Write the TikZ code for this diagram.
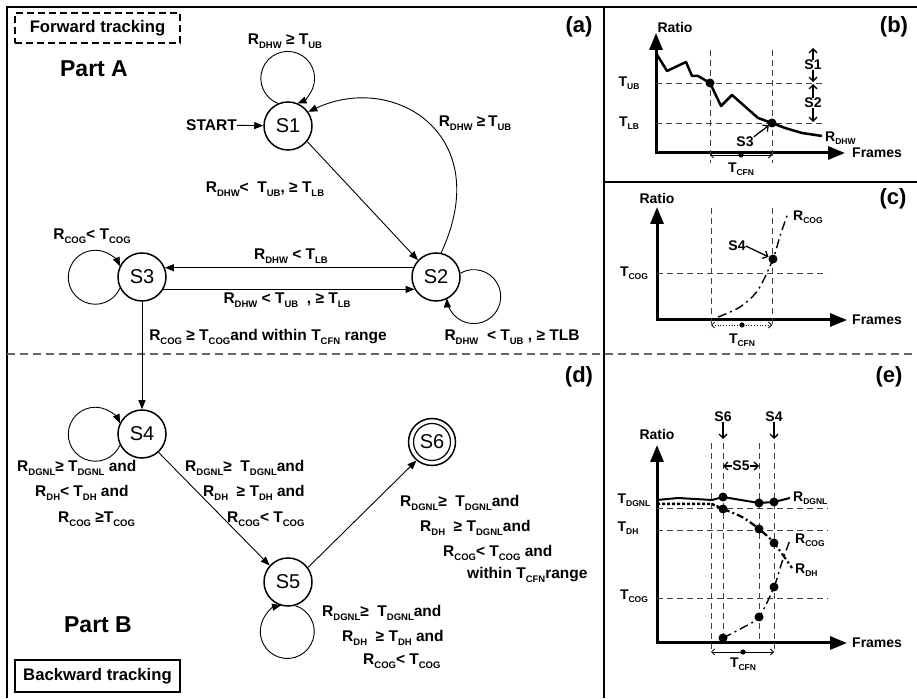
\documentclass[tikz,border=0pt]{standalone}
\usepackage{fontspec}
\setmainfont{Liberation Sans}
\usetikzlibrary{arrows.meta}
\newcommand{\subsz}{8.5}
\newcommand{\Xs}[2]{#1\raisebox{-0.45ex}{\fontsize{\subsz}{\subsz}\selectfont #2}}
\tikzset{
  stt/.style={circle, draw, line width=1.5pt, minimum size=48pt, inner sep=0pt, font=\fontsize{20}{22}\selectfont},
  lbl/.style={font={\renewcommand\subsz{9.5}\fontsize{15.5}{17}\selectfont\bfseries}, inner sep=0pt},
  plb/.style={font={\renewcommand\subsz{8.5}\fontsize{14}{16}\selectfont\bfseries}, inner sep=0pt},
  pl/.style={font=\fontsize{22}{24}\selectfont\bfseries, inner sep=0pt},
  edg/.style={line width=0.9pt, -{Triangle[length=9pt,width=7pt]}},
  axs/.style={line width=3pt, line join=miter, {Triangle[length=17pt,width=13pt]}-{Triangle[length=17pt,width=13pt]}},
  gridl/.style={line width=0.9pt, dash pattern=on 6pt off 4pt, black!75},
  crv/.style={line width=2.5pt, line join=round},
  barb/.style={line width=1.3pt, -{Straight Barb[length=4pt,width=8pt]}},
  brk/.style={line width=0.8pt, {Straight Barb[length=3pt,width=6pt]}-{Straight Barb[length=3pt,width=6pt]}},
  dd/.style={line width=1.4pt, dash pattern=on 9pt off 4pt on 2pt off 4pt},
}
\begin{document}
\begin{tikzpicture}[x=1pt,y=1pt]
\useasboundingbox (0,0) rectangle (917,698);
% frame
\draw[line width=2pt] (7,0) -- (7,691) -- (917,691);
\draw[line width=2pt] (604,0) -- (604,691);
\draw[line width=2pt] (604,516) -- (917,516);
\draw[line width=1.8pt, black!60, dash pattern=on 8pt off 5pt] (7,344) -- (917,344);

% ---------- panel (a)
\node[draw, dash pattern=on 7pt off 4pt, line width=1.5pt, minimum width=165pt, minimum height=30pt, inner sep=0pt, font=\fontsize{16.7}{18}\selectfont\bfseries] (fwd) at (97.5,670) {Forward tracking};
\node[font=\fontsize{23}{25}\selectfont\bfseries, inner sep=0pt] (partA) at (94,629) {Part A};
\node[pl] (pa) at (579,671) {(a)};

\node[stt] (S1) at (288,572) {S1};
\node[stt] (S2) at (436,421) {S2};
\node[stt] (S3) at (142,421) {S3};
\node[stt] (S4) at (142,264) {S4};
\node[stt] (S5) at (288,116) {S5};
\node[stt, minimum size=47pt] (S6) at (432,256) {S6};
\draw[line width=1.2pt] (S6.center) circle[radius=18.5];

\node[lbl] (start) at (211.5,573) {START};
\draw[edg] (start) -- (S1);
\draw[edg] (S1.114) arc[start angle=248.7, end angle=-68.7, radius=26.9];
\draw[edg] (S2.78) .. controls +(65:130) and +(25:95) .. (S1.35);
\draw[edg] (S1.321) -- (S2.137);
\draw[edg] (S2.158) -- (S3.22);
\draw[edg] (S3.330) -- (S2.210);
\draw[edg] (S2.9) arc[start angle=119.5, end angle=-176.2, radius=27];
\draw[edg] (S3.207) arc[start angle=-24, end angle=-336, radius=27];
\draw[edg] (S3) -- (S4);

\node[lbl] (l1) at (285,657) {\Xs{R}{DHW} ≥ \Xs{T}{UB}};
\node[lbl] (l2) at (475,575) {\Xs{R}{DHW} ≥\,\Xs{T}{UB}};
\node[lbl] (l3) at (265,509) {\Xs{R}{DHW}<~~\Xs{T}{UB}, ≥ \Xs{T}{LB}};
\node[lbl] (l4) at (92,462) {\Xs{R}{COG}<~\Xs{T}{COG}};
\node[lbl] (l5) at (291,442) {\Xs{R}{DHW} < \Xs{T}{LB}};
\node[lbl] (l6) at (287,398) {\Xs{R}{DHW} < \Xs{T}{UB} ~, ≥ \Xs{T}{LB}};
\node[lbl] (l7) at (512,361) {\Xs{R}{DHW} ~< \Xs{T}{UB} , ≥ TLB};
\node[lbl] (l8) at (268,361) {\Xs{R}{COG} ≥ \Xs{T}{COG}and within \Xs{T}{CFN} range};

% ---------- panel (d)
\node[pl] (pd) at (579,321) {(d)};
\draw[edg] (S4.207) arc[start angle=-24, end angle=-336, radius=27];
\draw[edg] (S4.312) -- (S5.138);
\draw[edg] (S5.287) arc[start angle=72.8, end angle=-256.9, radius=27];
\draw[edg] (S5.36) -- (S6.230);

\node[lbl, anchor=west] (m1) at (17,230) {\Xs{R}{DGNL}≥ \Xs{T}{DGNL} and};
\node[lbl, anchor=west] (m2) at (35,205) {\Xs{R}{DH}< \Xs{T}{DH} and};
\node[lbl, anchor=west] (m3) at (58,179) {\Xs{R}{COG} ≥\Xs{T}{COG}};

\node[lbl, anchor=west] (n1) at (185,230) {\Xs{R}{DGNL}≥~~\Xs{T}{DGNL}and};
\node[lbl, anchor=west] (n2) at (203,205) {\Xs{R}{DH} ~≥ \Xs{T}{DH} and};
\node[lbl, anchor=west] (n3) at (227,179) {\Xs{R}{COG}< \Xs{T}{COG}};

\node[lbl, anchor=west] (o1) at (400,195) {\Xs{R}{DGNL}≥~~\Xs{T}{DGNL}and};
\node[lbl, anchor=west] (o2) at (420,170) {\Xs{R}{DH} ~≥ \Xs{T}{DGNL}and};
\node[lbl, anchor=west] (o3) at (443,145) {\Xs{R}{COG}< \Xs{T}{COG} and};
\node[lbl, anchor=west] (o4) at (467,123) {within \Xs{T}{CFN}range};

\node[lbl, anchor=west] (p1) at (322,85) {\Xs{R}{DGNL}≥~~\Xs{T}{DGNL}and};
\node[lbl, anchor=west] (p2) at (342,60) {\Xs{R}{DH} ~≥ \Xs{T}{DH} and};
\node[lbl, anchor=west] (p3) at (363,37) {\Xs{R}{COG}< \Xs{T}{COG}};

\node[font=\fontsize{23}{25}\selectfont\bfseries, inner sep=0pt] (partB) at (98,73) {Part B};
\node[draw, line width=1.5pt, minimum width=165pt, minimum height=32pt, inner sep=0pt, font=\fontsize{16.7}{18}\selectfont\bfseries] (bwd) at (97.5,22) {Backward tracking};

% ---------- panel (b)
\node[pl] (pb) at (894,671) {(b)};
\node[plb] (ratB) at (675,670) {Ratio};
\draw[axs] (656,665) -- (656,545) -- (845,545);
\node[plb, anchor=west] (frB) at (852,545) {Frames};
\draw[gridl] (710,648) -- (710,535);
\draw[gridl] (772,648) -- (772,535);
\draw[gridl] (656,615) -- (822,615);
\draw[gridl] (656,575) -- (822,575);
\node[plb] (tubB) at (629,615) {\Xs{T}{UB}};
\node[plb] (tlbB) at (629,575) {\Xs{T}{LB}};
\draw[crv] (656,645) -- (667,627) -- (686,636) -- (692,622) -- (698,622) -- (710,615) -- (721,592) -- (732,603) -- (758,580) -- (772,575) -- (785,570) -- (802,565) -- (822,562);
\fill (710,615) circle[radius=4.5];
\coordinate (dB2) at (772,575);
\fill (dB2) circle[radius=4.5];
\node[plb, anchor=west] (rdhwB) at (825,560) {\Xs{R}{DHW}};
\node[plb] (s3B) at (745,556) {S3};
\draw[barb, shorten >=4pt] (s3B.north east) -- (dB2);
\node[plb] (s1B) at (813,633) {S1};
\node[plb] (s2B) at (813,595) {S2};
\coordinate (s1t) at (813,650);
\coordinate (s1b) at (813,616);
\coordinate (s2t) at (813,614);
\coordinate (s2b) at (813,576);
\draw[barb] (s1B.north) -- (s1t);
\draw[barb] (s1B.south) -- (s1b);
\draw[barb] (s2B.north) -- (s2t);
\draw[barb] (s2B.south) -- (s2b);
\draw[brk] (710,543) -- (772,543);
\fill (741,543) circle[radius=2.6];
\node[plb] (tcfnB) at (741,529) {\Xs{T}{CFN}};

% ---------- panel (c)
\node[pl] (pc) at (893,499) {(c)};
\node[plb] (ratC) at (657,499) {Ratio};
\draw[axs] (657,491) -- (657,378) -- (847,378);
\node[plb, anchor=west] (frC) at (852,378) {Frames};
\draw[gridl] (711,490) -- (711,370);
\draw[gridl] (772,490) -- (772,370);
\draw[gridl] (657,425) -- (827,425);
\node[plb] (tcogC) at (634,425) {\Xs{T}{COG}};
\draw[dd] plot[smooth] coordinates {(718,381) (740,391) (758,408) (773,439) (780,462) (788,485)};
\coordinate (dC) at (773,439);
\fill (dC) circle[radius=4.5];
\node[plb, anchor=west] (rcogC) at (793,481) {\Xs{R}{COG}};
\node[plb] (s4C) at (737,452) {S4};
\draw[barb, shorten >=5pt] (s4C.east) -- (dC);
\draw[brk, dotted] (711,373) -- (772,373);
\fill (742,373) circle[radius=2.6];
\node[plb] (tcfnC) at (742,358) {\Xs{T}{CFN}};

% ---------- panel (e)
\node[pl] (pe) at (889,321) {(e)};
\node[plb] (ratE) at (657,264) {Ratio};
\draw[axs] (657,253) -- (657,55) -- (847,55);
\node[plb, anchor=west] (frE) at (852,55) {Frames};
\draw[gridl] (711,255) -- (711,48);
\draw[gridl] (723,255) -- (723,55);
\draw[gridl] (759,255) -- (759,55);
\draw[gridl] (774,255) -- (774,48);
\draw[gridl] (657,190) -- (828,190);
\draw[gridl] (657,168) -- (828,168);
\draw[gridl] (657,100) -- (828,100);
\node[plb] (tdgnlE) at (634,198) {\Xs{T}{DGNL}};
\node[plb] (tdhE) at (628,170) {\Xs{T}{DH}};
\node[plb] (tcogE) at (634,102) {\Xs{T}{COG}};
\node[plb] (s6E) at (723,281) {S6};
\node[plb] (s4E) at (774,281) {S4};
\coordinate (s6a) at (723,259);
\coordinate (s4a) at (774,259);
\draw[barb] (s6E.south) -- (s6a);
\draw[barb] (s4E.south) -- (s4a);
\node[plb] (s5E) at (741,232) {S5};
\coordinate (s5l) at (723,232);
\coordinate (s5r) at (759,232);
\draw[barb] (s5E.west) -- (s5l);
\draw[barb] (s5E.east) -- (s5r);
% R_DGNL
\draw[line width=2pt, line join=round] (657,198) -- (678,200) -- (712,198) -- (723,201) -- (759,195) -- (774,196) -- (790,200);
\node[plb, anchor=west] (rdgnlE) at (793,200) {\Xs{R}{DGNL}};
% R_DH
\draw[line width=2.5pt, dash pattern=on 3pt off 2pt] (657,194) -- (712,194) -- (723,189);
\draw[line width=2.2pt, dash pattern=on 7pt off 3pt on 2pt off 3pt] plot[smooth] coordinates {(723,189) (742,181) (759,169) (774,155) (792,130)};
\node[plb, anchor=west] (rdhE) at (795,128) {\Xs{R}{DH}};
% R_COG
\draw[dd] plot[smooth] coordinates {(723,60) (742,70) (759,81) (774,111) (782,136) (790,158)};
\node[plb, anchor=west] (rcogE) at (795,158) {\Xs{R}{COG}};
\foreach \p in {(723,201),(759,195),(774,196),(723,189),(759,169),(774,155),(723,60),(759,81),(774,111)}
  \fill \p circle[radius=4.5];
\draw[brk] (711,46) -- (774,46);
\fill (743,46) circle[radius=2.6];
\node[plb] (tcfnE) at (743,34) {\Xs{T}{CFN}};
\end{tikzpicture}
\end{document}
